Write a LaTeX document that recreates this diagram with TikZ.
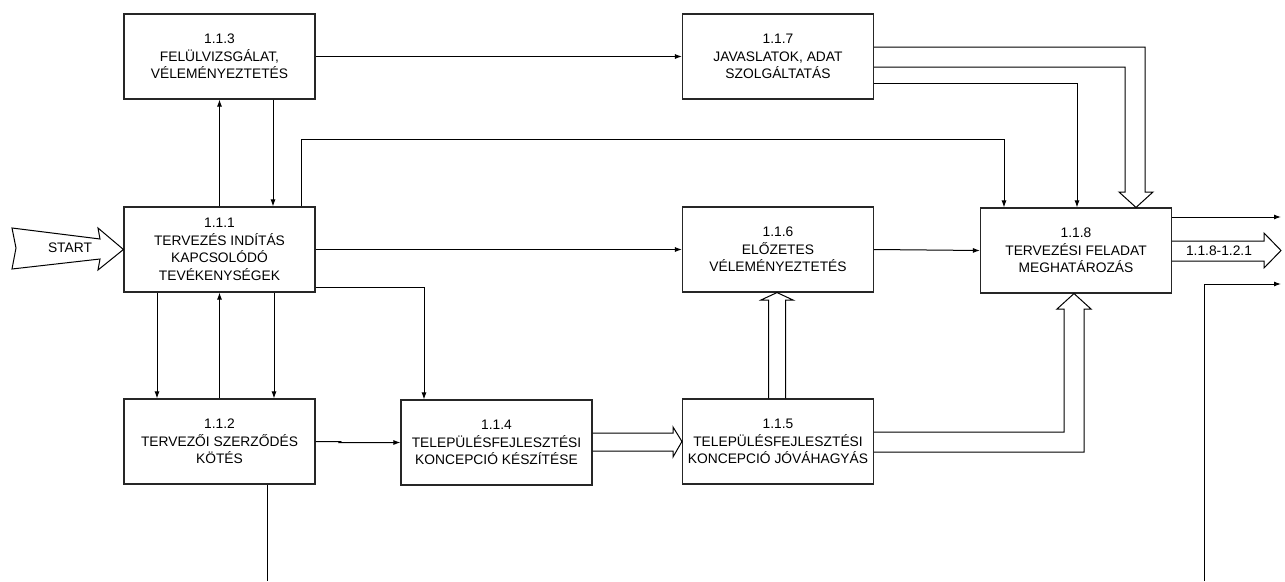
\documentclass[tikz,border=0pt]{standalone}
\usepackage{fontspec}
\setmainfont{Liberation Sans}
\usetikzlibrary{arrows.meta}
\begin{document}
\begin{tikzpicture}[x=1pt,y=-1pt,
  box/.style={draw=black!85, line width=1.1pt, minimum width=191pt, minimum height=85pt, inner sep=0pt, align=center, font=\fontsize{13.8}{17.5}\selectfont},
  lbl/.style={inner sep=0pt, font=\fontsize{13.8}{17.5}\selectfont},
  arr/.style={line width=1pt, -{Latex[length=7pt,width=5pt]}},
  ln/.style={line width=1pt},
  hollow/.style={line width=1pt, line join=miter}]
\useasboundingbox (0,0) rectangle (1285,581);

% boxes
\node[box] (n113) at (219.5,56.5) {1.1.3\\FELÜLVIZSGÁLAT,\\VÉLEMÉNYEZTETÉS};
\node[box] (n111) at (219.5,249.5) {1.1.1\\TERVEZÉS INDÍTÁS\\KAPCSOLÓDÓ\\TEVÉKENYSÉGEK};
\node[box] (n112) at (219.5,441.5) {1.1.2\\TERVEZŐI SZERZŐDÉS\\KÖTÉS};
\node[box] (n114) at (496.5,442.5) {1.1.4\\TELEPÜLÉSFEJLESZTÉSI\\KONCEPCIÓ KÉSZÍTÉSE};
\node[box] (n115) at (778,441.5) {1.1.5\\TELEPÜLÉSFEJLESZTÉSI\\KONCEPCIÓ JÓVÁHAGYÁS};
\node[box] (n116) at (778,249.5) {1.1.6\\ELŐZETES\\VÉLEMÉNYEZTETÉS};
\node[box] (n117) at (778,56.5) {1.1.7\\JAVASLATOK, ADAT\\SZOLGÁLTATÁS};
\node[box] (n118) at (1076,250.5) {1.1.8\\TERVEZÉSI FELADAT\\MEGHATÁROZÁS};

% START arrow
\draw[hollow] (12,228) -- (100,239) -- (98,228) -- (n111.west) -- (98,270) -- (100,259) -- (12,269) -- (16,248) -- cycle;
\node[lbl] (start) at (70,248) {START};

% free ends
\coordinate (b1) at (267,581);
\coordinate (b2) at (1204,581);
\coordinate (o1) at (1281,217);
\coordinate (o3) at (1281,284);

% simple connectors
\draw[arr] (n113.east) -- (n117.west);
\draw[arr] (n111.north) -- (n113.south);
\draw[arr] ([xshift=53.5pt]n113.south) -- ([xshift=53.5pt]n111.north);
\draw[arr] ([xshift=81.5pt]n111.north) -- ++(0,-67) -| ([xshift=-72pt]n118.north);
\draw[arr] (n111.east) -- (n116.west);
\draw[arr] ([yshift=-37.5pt]n111.east) -| ([xshift=-72.5pt]n114.north);
\draw[arr] ([xshift=-62.5pt]n111.south) -- ([xshift=-62.5pt]n112.north);
\draw[arr] (n112.north) -- (n111.south);
\draw[arr] ([xshift=54.5pt]n111.south) -- ([xshift=54.5pt]n112.north);
\draw[arr] (n112.east) -- ++(25,0) -- ([xshift=-61pt]n114.west) -- (n114.west);
\draw[ln] ([xshift=47.5pt]n112.south) -- (b1);
\draw[arr] (n116.east) -- (n118.west);
\draw[arr] ([yshift=-26.5pt]n117.east) -| ([xshift=1pt]n118.north);
\draw[arr] ([yshift=33.5pt]n118.east) -- (o1);
\draw[arr] (b2) |- (o3);

% hollow (double-line) arrows
\draw[hollow] ([yshift=9.5pt]n117.east) -- (1145,47) -- (1145,192) -- (1153,192) -- ([xshift=60pt]n118.north) -- (1119,192) -- (1125,192) -- (1125,67) -- ([yshift=-10.5pt]n117.east);
\draw[hollow] ([yshift=9.5pt]n115.east) -- (1064,432) -- (1064,309) -- (1057,309) -- ([xshift=-2pt]n118.south) -- (1091,309) -- (1084,309) -- (1084,452) -- ([yshift=-10.5pt]n115.east);
\draw[hollow] ([xshift=-9.5pt]n115.north) -- (768.5,300) -- (761,300) -- ([xshift=-1pt]n116.south) -- (793,300) -- (785.5,300) -- ([xshift=7.5pt]n115.north);
\draw[hollow] ([yshift=9.5pt]n114.east) -- (673,433) -- (673,427) -- (n115.west) -- (673,457) -- (673,451) -- ([yshift=-8.5pt]n114.east);
\draw[hollow] ([yshift=9.5pt]n118.east) -- (1264,241) -- (1264,233) -- (1281,250.5) -- (1264,268) -- (1264,261) -- ([yshift=-10.5pt]n118.east);
\node[lbl] (out) at (1219,251) {1.1.8-1.2.1};
\end{tikzpicture}
\end{document}
